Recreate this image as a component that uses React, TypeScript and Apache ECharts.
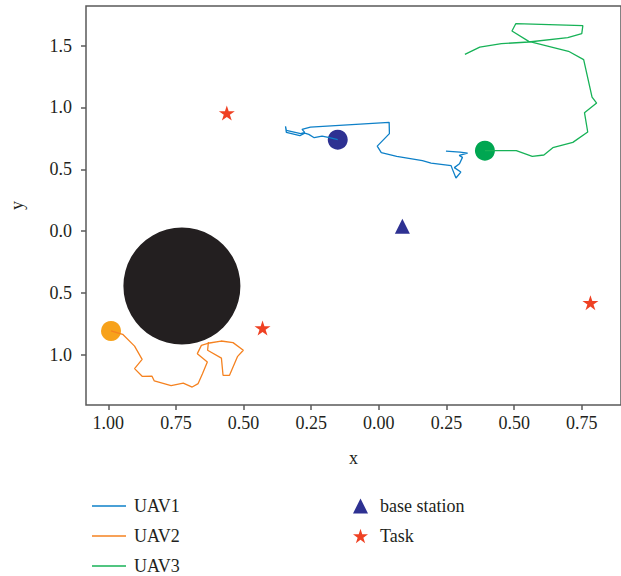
import React, { useEffect, useRef } from "react";
import * as echarts from "echarts";

const xTicks = [-1, -0.75, -0.5, -0.25, 0, 0.25, 0.5, 0.75];
const yTicks = [-1, -0.5, 0, 0.5, 1, 1.5];

const uav1: number[][] = [
  [-0.152, 0.74], [-0.182, 0.756], [-0.21, 0.769], [-0.239, 0.756], [-0.259, 0.783],
  [-0.274, 0.793], [-0.292, 0.772], [-0.342, 0.799], [-0.345, 0.848], [-0.342, 0.815],
  [-0.289, 0.789], [-0.274, 0.799], [-0.284, 0.823], [-0.253, 0.842], [0.038, 0.88],
  [0.039, 0.789], [-0.006, 0.688], [0.009, 0.635], [0.066, 0.605], [0.161, 0.57],
  [0.193, 0.551], [0.267, 0.53], [0.271, 0.506], [0.285, 0.43], [0.303, 0.478],
  [0.279, 0.514], [0.298, 0.546], [0.309, 0.597], [0.297, 0.613], [0.328, 0.632],
  [0.3, 0.64], [0.248, 0.648],
];

const uav2: number[][] = [
  [-0.99, -0.806], [-0.947, -0.833], [-0.903, -0.928], [-0.875, -1.035], [-0.903, -1.11],
  [-0.875, -1.172], [-0.839, -1.17], [-0.83, -1.21], [-0.768, -1.248], [-0.723, -1.227],
  [-0.69, -1.259], [-0.668, -1.231], [-0.652, -1.151], [-0.634, -1.057], [-0.671, -0.989],
  [-0.656, -0.922], [-0.626, -0.903], [-0.583, -0.887], [-0.539, -0.9], [-0.501, -0.962],
  [-0.522, -1.011], [-0.552, -1.164], [-0.576, -1.164], [-0.582, -1.025], [-0.633, -0.962],
  [-0.63, -0.895],
];

const uav3: number[][] = [
  [0.392, 0.651], [0.508, 0.651], [0.567, 0.605], [0.61, 0.616], [0.643, 0.675],
  [0.717, 0.718], [0.772, 0.802], [0.76, 0.958], [0.805, 1.036], [0.788, 1.084],
  [0.757, 1.387], [0.701, 1.454], [0.554, 1.534], [0.492, 1.618], [0.506, 1.677],
  [0.754, 1.661], [0.75, 1.597], [0.698, 1.564], [0.554, 1.529], [0.453, 1.516],
  [0.373, 1.488], [0.318, 1.429],
];

const baseStation: number[][] = [[0.087, 0.04]];
const tasks: number[][] = [[-0.562, 0.955], [-0.43, -0.782], [0.782, -0.577]];
const obstacle: number[][] = [[-0.728, -0.443]];
const uav1Start: number[][] = [[-0.152, 0.74]];
const uav2Start: number[][] = [[-0.99, -0.806]];
const uav3Start: number[][] = [[0.392, 0.651]];

const STAR =
  "path://M100 0 L122.45 69.1 L195.1 69.1 L136.3 111.8 L158.8 180.9 L100 138.2 L41.2 180.9 L63.7 111.8 L4.9 69.1 L77.55 69.1 Z";

const FONT = "Liberation Serif";
const TXT = "#231f20";
const AX = "#5a5a5a";

export default function App() {
  const ref = useRef<HTMLDivElement>(null);
  useEffect(() => {
    if (!ref.current) return;
    const chart = echarts.init(ref.current, undefined, { renderer: "svg" });
    chart.setOption({
      animation: false,
      backgroundColor: "#ffffff",
      grid: {
        left: 86,
        top: 6,
        right: -3,
        height: 399,
        show: true,
        borderColor: AX,
        borderWidth: 1.5,
        containLabel: false,
      },
      xAxis: {
        type: "value",
        min: -1.0825,
        max: 0.895,
        name: "x",
        nameLocation: "middle",
        nameGap: 44,
        nameTextStyle: { fontFamily: FONT, fontSize: 18, color: TXT },
        axisLine: { show: false, onZero: false },
        splitLine: { show: false },
        axisTick: {
          show: true,
          length: 5,
          customValues: xTicks,
          lineStyle: { color: AX, width: 1.5 },
        },
        axisLabel: {
          customValues: xTicks,
          margin: 9,
          fontFamily: FONT,
          fontSize: 18,
          color: TXT,
          formatter: (v: number) => Math.abs(v).toFixed(2),
        },
      },
      yAxis: {
        type: "value",
        min: -1.404,
        max: 1.82,
        name: "y",
        nameLocation: "middle",
        nameGap: 60,
        nameTextStyle: { fontFamily: FONT, fontSize: 18, color: TXT },
        axisLine: { show: false, onZero: false },
        splitLine: { show: false },
        axisTick: {
          show: true,
          length: 5,
          customValues: yTicks,
          lineStyle: { color: AX, width: 1.5 },
        },
        axisLabel: {
          customValues: yTicks,
          margin: 14,
          fontFamily: FONT,
          fontSize: 18,
          color: TXT,
          formatter: (v: number) => Math.abs(v).toFixed(1),
        },
      },
      legend: [
        {
          data: [
            { name: "UAV1", icon: "rect" },
            { name: "UAV2", icon: "rect" },
            { name: "UAV3", icon: "rect" },
          ],
          orient: "vertical",
          left: 87,
          top: 491,
          height: 100,
          itemWidth: 34,
          itemHeight: 1.5,
          itemGap: 10,
          textStyle: {
            fontFamily: FONT,
            fontSize: 18,
            lineHeight: 20,
            color: TXT,
            padding: [0, 0, 0, 3],
          },
        },
        {
          data: [
            { name: "base station", icon: "triangle" },
            { name: "Task", icon: STAR },
          ],
          orient: "vertical",
          left: 348,
          top: 491,
          height: 100,
          itemWidth: 15,
          itemHeight: 15,
          itemGap: 10,
          textStyle: {
            fontFamily: FONT,
            fontSize: 18,
            lineHeight: 20,
            color: TXT,
            padding: [0, 0, 0, 7],
          },
        },
      ],
      series: [
        {
          name: "obstacle",
          type: "scatter",
          data: obstacle,
          symbol: "circle",
          symbolSize: 117,
          itemStyle: { color: "#231f20", opacity: 1 },
          z: 1,
        },
        {
          name: "start1",
          type: "scatter",
          data: uav1Start,
          symbolSize: 20,
          itemStyle: { color: "#2e3192", opacity: 1 },
          z: 2,
        },
        {
          name: "start2",
          type: "scatter",
          data: uav2Start,
          symbolSize: 20,
          itemStyle: { color: "#f7a21b", opacity: 1 },
          z: 2,
        },
        {
          name: "start3",
          type: "scatter",
          data: uav3Start,
          symbolSize: 20,
          itemStyle: { color: "#00a651", opacity: 1 },
          z: 2,
        },
        {
          name: "UAV1",
          type: "line",
          data: uav1,
          symbol: "none",
          lineStyle: { color: "#0e80c8", width: 1.3 },
          itemStyle: { color: "#0e80c8" },
          z: 3,
        },
        {
          name: "UAV2",
          type: "line",
          data: uav2,
          symbol: "none",
          lineStyle: { color: "#f58220", width: 1.3 },
          itemStyle: { color: "#f58220" },
          z: 3,
        },
        {
          name: "UAV3",
          type: "line",
          data: uav3,
          symbol: "none",
          lineStyle: { color: "#17b257", width: 1.3 },
          itemStyle: { color: "#17b257" },
          z: 3,
        },
        {
          name: "base station",
          type: "scatter",
          data: baseStation,
          symbol: "triangle",
          symbolSize: [15, 15],
          itemStyle: { color: "#2e3192", opacity: 1 },
          z: 4,
        },
        {
          name: "Task",
          type: "scatter",
          data: tasks,
          symbol: STAR,
          symbolSize: [16, 15],
          itemStyle: { color: "#ef4123", opacity: 1 },
          z: 4,
        },
      ],
    });
    return () => chart.dispose();
  }, []);
  return (
    <div
      ref={ref}
      style={{ position: "absolute", left: 0, top: 0, width: 621, height: 576 }}
    />
  );
}
